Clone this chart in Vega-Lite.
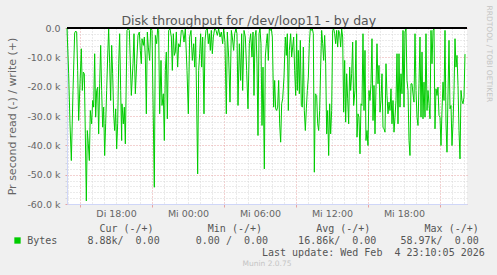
{
"$schema": "https://vega.github.io/schema/vega-lite/v6.json",
"width": 400, "height": 176,
"autosize": {"type": "none"},
"padding": {"left": 67, "top": 28, "right": 30, "bottom": 71},
"background": "#f0f0f0",
"config": {"view": {"stroke": null, "fill": "#ffffff"}, "font": "DejaVu Sans"},
"title": {"text": "Munin 2.0.75", "orient": "bottom", "anchor": "middle", "fontSize": 7.5, "font": "DejaVu Sans", "fontWeight": "normal", "color": "#c4c4c4", "offset": 3},
"data": {"values": [
{"h":13.917,"v":0},{"h":14.056,"v":-15600},{"h":14.167,"v":-32670},{"h":14.278,"v":-45190},{"h":14.417,"v":-21290},{"h":14.556,"v":-1720},{"h":14.639,"v":-1040},{"h":14.722,"v":-1380},{"h":14.806,"v":-14460},{"h":14.889,"v":-31530},{"h":15.0,"v":-19020},{"h":15.111,"v":-7070},{"h":15.194,"v":-21290},{"h":15.278,"v":-15030},{"h":15.361,"v":-15600},{"h":15.444,"v":-36090},{"h":15.528,"v":-58970},{"h":15.611,"v":-34950},{"h":15.694,"v":-39500},{"h":15.778,"v":-45190},{"h":15.861,"v":-28120},{"h":15.972,"v":-32670},{"h":16.056,"v":-24710},{"h":16.139,"v":-26980},{"h":16.222,"v":-8770},{"h":16.306,"v":-30400},{"h":16.389,"v":-21290},{"h":16.472,"v":-20160},{"h":16.556,"v":-36090},{"h":16.639,"v":-19020},{"h":16.722,"v":-5930},{"h":16.806,"v":-21290},{"h":16.889,"v":-33810},{"h":16.972,"v":-26980},{"h":17.056,"v":-43480},{"h":17.139,"v":-32670},{"h":17.222,"v":-21290},{"h":17.306,"v":-9910},{"h":17.389,"v":-240},{"h":17.472,"v":-12190},{"h":17.556,"v":-24710},{"h":17.639,"v":-5930},{"h":17.722,"v":-15600},{"h":17.806,"v":-29260},{"h":17.889,"v":-34950},{"h":17.972,"v":-27550},{"h":18.056,"v":-41210},{"h":18.139,"v":-32670},{"h":18.222,"v":-12190},{"h":18.306,"v":-1950},{"h":18.389,"v":-21290},{"h":18.472,"v":-38360},
{"h":18.5,"v":-25840},{"h":18.611,"v":-32670},{"h":18.694,"v":-26980},{"h":18.778,"v":-39500},{"h":18.917,"v":-810},{"h":19.028,"v":-240},{"h":19.111,"v":-810},{"h":19.278,"v":-23000},{"h":19.417,"v":-12190},{"h":19.5,"v":-1950},{"h":19.611,"v":-22430},{"h":19.722,"v":-12190},{"h":19.833,"v":-2520},{"h":19.944,"v":-1380},{"h":20.028,"v":-7640},{"h":20.111,"v":-12190},{"h":20.167,"v":-3650},{"h":20.278,"v":-5930},{"h":20.361,"v":-3080},{"h":20.444,"v":-9910},{"h":20.528,"v":-29260},{"h":20.611,"v":-1380},{"h":20.694,"v":-6500},{"h":20.806,"v":-11050},{"h":20.889,"v":-240},{"h":21.0,"v":-810},{"h":21.194,"v":-54290},{"h":21.278,"v":-2520},{"h":21.389,"v":-5360},{"h":21.472,"v":-240},{"h":21.556,"v":-810},{"h":21.639,"v":-29260},{"h":21.75,"v":-11050},{"h":21.833,"v":-26410},{"h":21.944,"v":-22430},{"h":22.028,"v":-38360},{"h":22.111,"v":-14460},{"h":22.194,"v":-8210},{"h":22.278,"v":-30960},{"h":22.389,"v":-810},{"h":22.5,"v":-240},{"h":22.611,"v":-3080},{"h":22.694,"v":-14460},{"h":22.778,"v":-1950},{"h":22.861,"v":-9340},{"h":22.944,"v":-8210},{"h":23.028,"v":-1380},{"h":23.139,"v":-13330},{"h":23.222,"v":-5360},
{"h":23.333,"v":-6500},{"h":23.444,"v":-810},{"h":23.556,"v":-810},{"h":23.667,"v":-4790},{"h":23.778,"v":-240},{"h":23.917,"v":-14460},{"h":24.028,"v":-29260},{"h":24.139,"v":-3080},{"h":24.25,"v":-810},{"h":24.361,"v":-11050},{"h":24.472,"v":-5360},{"h":24.556,"v":-13330},{"h":24.639,"v":-3080},{"h":24.722,"v":-25840},{"h":24.806,"v":-49740},{"h":24.889,"v":-14460},{"h":24.972,"v":-8770},{"h":25.056,"v":-1950},{"h":25.139,"v":-13330},{"h":25.222,"v":-3080},{"h":25.333,"v":-29260},{"h":25.417,"v":-4220},{"h":25.5,"v":-810},{"h":25.611,"v":-240},{"h":25.694,"v":-5360},{"h":25.778,"v":-1950},{"h":25.861,"v":-7640},{"h":25.944,"v":-810},{"h":26.028,"v":-8770},{"h":26.111,"v":-3080},{"h":26.222,"v":-240},{"h":26.333,"v":-810},{"h":26.444,"v":-2520},{"h":26.556,"v":-240},{"h":26.667,"v":-3080},{"h":26.778,"v":-1380},{"h":26.889,"v":-5360},{"h":26.972,"v":-240},{"h":27.083,"v":-4790},{"h":27.194,"v":-29260},{"h":27.278,"v":-1380},{"h":27.389,"v":-9910},{"h":27.5,"v":-25270},{"h":27.611,"v":-810},{"h":27.694,"v":-3080},{"h":27.806,"v":-7640},{"h":27.889,"v":-1950},{"h":28.0,"v":-240},{"h":28.083,"v":-1950},
{"h":28.167,"v":-26410},{"h":28.278,"v":-5360},{"h":28.389,"v":-17880},{"h":28.472,"v":-1950},{"h":28.556,"v":-21290},{"h":28.667,"v":-810},{"h":28.778,"v":-3080},{"h":28.889,"v":-14460},{"h":29.0,"v":-27550},{"h":29.111,"v":-5360},{"h":29.222,"v":-1950},{"h":29.333,"v":-9910},{"h":29.417,"v":-1380},{"h":29.5,"v":-23000},{"h":29.583,"v":-3080},{"h":29.667,"v":-810},{"h":29.75,"v":-12190},{"h":29.833,"v":-36660},{"h":29.917,"v":-1950},{"h":30.0,"v":-240},{"h":30.083,"v":-5360},{"h":30.167,"v":-33240},{"h":30.25,"v":-13330},{"h":30.361,"v":-48040},{"h":30.444,"v":-9910},{"h":30.528,"v":-5360},{"h":30.611,"v":-1950},{"h":30.694,"v":-11050},{"h":30.778,"v":-240},{"h":30.861,"v":-810},{"h":30.944,"v":-240},{"h":31.028,"v":-3080},{"h":31.139,"v":-26980},{"h":31.222,"v":-17880},{"h":31.306,"v":-27550},{"h":31.389,"v":-28120},{"h":31.472,"v":-26980},{"h":31.556,"v":-17880},{"h":31.639,"v":-32670},{"h":31.722,"v":-38930},{"h":31.806,"v":-25840},{"h":31.889,"v":-24140},{"h":32.0,"v":-16740},{"h":32.111,"v":-3080},{"h":32.194,"v":-9340},{"h":32.278,"v":-1950},{"h":32.361,"v":-28120},{"h":32.444,"v":-7640},{"h":32.556,"v":-1950},{"h":32.639,"v":-9910},{"h":32.722,"v":-6500},{"h":32.806,"v":-3080},{"h":32.889,"v":-14460},{"h":32.972,"v":-23000},
{"h":33.056,"v":-1950},{"h":33.111,"v":-21290},{"h":33.194,"v":-7640},{"h":33.278,"v":-22430},{"h":33.361,"v":-4220},{"h":33.444,"v":-26410},{"h":33.528,"v":-26980},{"h":33.611,"v":-6500},{"h":33.694,"v":-28120},{"h":33.778,"v":-34950},{"h":33.861,"v":-27550},{"h":33.944,"v":-21290},{"h":34.028,"v":-16740},{"h":34.111,"v":-5360},{"h":34.194,"v":-240},{"h":34.278,"v":-810},{"h":34.361,"v":-240},{"h":34.444,"v":-1950},{"h":34.528,"v":-49170},{"h":34.611,"v":-22430},{"h":34.722,"v":-23000},{"h":34.806,"v":-32670},{"h":34.889,"v":-34950},{"h":34.972,"v":-28120},{"h":35.056,"v":-13330},{"h":35.139,"v":-810},{"h":35.222,"v":-5360},{"h":35.306,"v":-11050},{"h":35.389,"v":-2520},{"h":35.472,"v":-12190},{"h":35.556,"v":-36090},{"h":35.639,"v":-28120},{"h":35.722,"v":-43480},{"h":35.806,"v":-25840},{"h":35.889,"v":-36090},{"h":35.972,"v":-28120},{"h":36.056,"v":-810},{"h":36.139,"v":-240},{"h":36.222,"v":-1950},{"h":36.306,"v":-5360},{"h":36.389,"v":-810},{"h":36.472,"v":-6500},{"h":36.556,"v":-810},{"h":36.639,"v":-1950},{"h":36.722,"v":-6500},{"h":36.806,"v":-240},{"h":36.889,"v":-3080},{"h":36.972,"v":-28690},{"h":37.056,"v":-11050},{"h":37.139,"v":-32100},{"h":37.222,"v":-15600},{"h":37.306,"v":-24140},{"h":37.389,"v":-32670},{"h":37.472,"v":-13330},{"h":37.556,"v":-21290},{"h":37.639,"v":-15600},{"h":37.722,"v":-4790},{"h":37.806,"v":-26410},
{"h":37.917,"v":-21290},{"h":38.0,"v":-4220},{"h":38.083,"v":-37220},{"h":38.167,"v":-29260},{"h":38.25,"v":-30400},{"h":38.333,"v":-42910},{"h":38.417,"v":-25840},{"h":38.5,"v":-26410},{"h":38.583,"v":-1950},{"h":38.667,"v":-28120},{"h":38.75,"v":-7640},{"h":38.833,"v":-38360},{"h":38.917,"v":-34950},{"h":39.0,"v":-40070},{"h":39.083,"v":-21290},{"h":39.167,"v":-24710},{"h":39.25,"v":-19020},{"h":39.333,"v":-3650},{"h":39.417,"v":-31530},{"h":39.5,"v":-19590},{"h":39.583,"v":-36090},{"h":39.667,"v":-20160},{"h":39.75,"v":-5360},{"h":39.833,"v":-19020},{"h":39.917,"v":-12760},{"h":40.0,"v":-28690},{"h":40.083,"v":-24710},{"h":40.167,"v":-15600},{"h":40.25,"v":-33810},{"h":40.333,"v":-34380},{"h":40.417,"v":-35520},{"h":40.5,"v":-12190},{"h":40.583,"v":-23000},{"h":40.667,"v":-29260},{"h":40.75,"v":-25270},{"h":40.833,"v":-28120},{"h":40.917,"v":-20720},{"h":41.0,"v":-32670},{"h":41.083,"v":-24710},{"h":41.167,"v":-35520},{"h":41.25,"v":-30400},{"h":41.333,"v":-24710},{"h":41.417,"v":-8770},{"h":41.5,"v":-32670},{"h":41.583,"v":-8770},{"h":41.667,"v":-26980},{"h":41.75,"v":-15600},{"h":41.833,"v":-22430},{"h":41.917,"v":-810},{"h":42.0,"v":-26980},{"h":42.083,"v":-1380},{"h":42.167,"v":-240},{"h":42.25,"v":-17880},{"h":42.333,"v":-21290},{"h":42.417,"v":-38360},{"h":42.5,"v":-43480},{"h":42.583,"v":-19020},
{"h":42.667,"v":-19020},{"h":42.75,"v":-22430},{"h":42.833,"v":-25270},{"h":42.917,"v":-1950},{"h":43.0,"v":-21290},{"h":43.083,"v":-30400},{"h":43.167,"v":-33240},{"h":43.25,"v":-19020},{"h":43.333,"v":-3080},{"h":43.417,"v":-30400},{"h":43.5,"v":-8210},{"h":43.583,"v":-30960},{"h":43.667,"v":-18450},{"h":43.75,"v":-30400},{"h":43.833,"v":-1950},{"h":43.917,"v":-28120},{"h":44.0,"v":-21290},{"h":44.083,"v":-25840},{"h":44.167,"v":-30960},{"h":44.25,"v":-810},{"h":44.333,"v":-12190},{"h":44.417,"v":-810},{"h":44.5,"v":-240},{"h":44.583,"v":-34380},{"h":44.667,"v":-20720},{"h":44.75,"v":-23000},{"h":44.833,"v":-20160},{"h":44.917,"v":-29830},{"h":45.0,"v":-30400},{"h":45.083,"v":-40070},{"h":45.167,"v":-28120},{"h":45.25,"v":-18450},{"h":45.333,"v":-24710},{"h":45.417,"v":-810},{"h":45.5,"v":-32670},{"h":45.583,"v":-42350},{"h":45.667,"v":-22430},{"h":45.75,"v":-4220},{"h":45.833,"v":-27550},{"h":45.917,"v":-26410},{"h":46.0,"v":-40070},{"h":46.083,"v":-32670},{"h":46.167,"v":-21290},{"h":46.25,"v":-3650},{"h":46.333,"v":-13330},{"h":46.417,"v":-9340},{"h":46.5,"v":-19590},{"h":46.583,"v":-34950},{"h":46.667,"v":-44620},{"h":46.75,"v":-21290},{"h":46.833,"v":-24710},{"h":46.917,"v":-25840},{"h":47.0,"v":-23570},{"h":47.083,"v":-8880}
]},
"layer": [
{"mark": {"type": "line", "strokeWidth": 1},
 "encoding": {
  "x": {"field": "h", "type": "quantitative", "scale": {"domain": [13.917, 47.25], "nice": false, "zero": false},
   "axis": {"values": [14,15,16,17,18,19,20,21,22,23,24,25,26,27,28,29,30,31,32,33,34,35,36,37,38,39,40,41,42,43,44,45,46,47],
    "labelExpr": "datum.value % 6 == 0 ? ((datum.value < 24 ? 'Di ' : 'Mi ') + (datum.value % 24 < 10 ? '0' : '') + (datum.value % 24) + ':00') : ''",
    "labelOverlap": false, "labelFlush": false, "labelBound": false,
    "labelFont": "DejaVu Sans", "labelFontSize": 9.5, "labelColor": "#666666", "labelPadding": 1, "labelBaseline": "top",
    "tickSize": 3, "tickColor": "#e6a3a3", "tickOpacity": {"condition": {"test": "(datum.value - 3) % 6 == 0", "value": 1}, "value": 0},
    "grid": true, "gridColor": {"condition": {"test": "(datum.value - 3) % 6 == 0", "value": "#e6a3a3"}, "value": "#d6d6d6"}, "gridDash": [1, 2], "gridWidth": 1,
    "domainColor": "#cfd6f8", "domainWidth": 1,
    "title": ["\u200b\u00a0\u00a0\u00a0\u00a0\u00a0\u00a0\u00a0\u00a0\u00a0\u00a0\u00a0\u00a0Cur (-/+)\u00a0\u00a0\u00a0\u00a0\u00a0\u00a0\u00a0\u00a0\u00a0Min (-/+)\u00a0\u00a0\u00a0\u00a0\u00a0\u00a0\u00a0\u00a0\u00a0Avg (-/+)\u00a0\u00a0\u00a0\u00a0\u00a0\u00a0\u00a0\u00a0\u00a0Max (-/+)",
      "Bytes\u00a0\u00a0\u00a0\u00a0\u00a08.88k/\u00a0\u00a00.00\u00a0\u00a0\u00a0\u00a0\u00a0\u00a00.00 /\u00a0\u00a00.00\u00a0\u00a0\u00a0\u00a0\u00a016.86k/\u00a0\u00a00.00\u00a0\u00a0\u00a0\u00a058.97k/\u00a0\u00a00.00",
      "\u200b\u00a0\u00a0\u00a0\u00a0\u00a0\u00a0\u00a0\u00a0\u00a0\u00a0\u00a0\u00a0\u00a0\u00a0\u00a0\u00a0\u00a0\u00a0\u00a0\u00a0\u00a0\u00a0\u00a0\u00a0\u00a0\u00a0\u00a0\u00a0\u00a0\u00a0\u00a0\u00a0\u00a0\u00a0\u00a0\u00a0\u00a0\u00a0\u00a0Last update: Wed Feb\u00a0\u00a04 23:10:05 2026"],
    "titleFont": "DejaVu Sans Mono", "titleFontSize": 10, "titleFontWeight": "normal", "titleColor": "#555555",
    "titleX": -40.3, "titleY": 27, "titleAlign": "left", "titleAnchor": "start", "titleBaseline": "alphabetic", "titleLineHeight": 12}},
  "y": {"field": "v", "type": "quantitative", "scale": {"domain": [-60000, 0], "nice": false},
   "axis": {"values": [-60000,-58000,-56000,-54000,-52000,-50000,-48000,-46000,-44000,-42000,-40000,-38000,-36000,-34000,-32000,-30000,-28000,-26000,-24000,-22000,-20000,-18000,-16000,-14000,-12000,-10000,-8000,-6000,-4000,-2000,0],
    "labelExpr": "datum.value % 10000 == 0 ? (datum.value == 0 ? '0.0' : '-' + format(-datum.value/1000, '.1f') + ' k') : ''",
    "labelOverlap": false, "labelFont": "DejaVu Sans", "labelFontSize": 9.5, "labelColor": "#666666", "labelPadding": 5,
    "tickSize": 2, "tickColor": {"condition": {"test": "datum.value % 10000 == 0", "value": "#e6a3a3"}, "value": "#d6d6d6"},
    "grid": true, "gridColor": {"condition": {"test": "datum.value % 10000 == 0", "value": "#e6a3a3"}, "value": "#d6d6d6"}, "gridDash": [1, 2], "gridWidth": 1,
    "domainColor": "#cfd6f8", "domainWidth": 1,
    "title": "Pr second read (-) / write (+)", "titleFont": "DejaVu Sans", "titleFontSize": 11, "titleFontWeight": "normal", "titleColor": "#666666",
    "titleX": -55, "titleY": 88, "titleAngle": -90, "titleAlign": "center", "titleBaseline": "middle"}},
  "color": {"datum": "Bytes", "scale": {"range": ["#00cc00"]},
   "legend": {"orient": "none", "legendX": -53, "legendY": 209, "title": null, "padding": 0, "labelExpr": "''", "labelFontSize": 1, "labelOffset": 0,
    "symbolType": "square", "symbolSize": 40, "symbolFillColor": "#00cc00", "symbolStrokeColor": "#00cc00", "symbolStrokeWidth": 0,
    "encode": {"symbols": {"update": {"fill": {"value": "#00cc00"}, "stroke": {"value": "#00cc00"}, "strokeWidth": {"value": 0}, "shape": {"value": "square"}, "size": {"value": 40}}}}}}
 }},
{"mark": {"type": "rule", "color": "#000000", "strokeWidth": 1},
 "encoding": {
  "x": {"datum": 13.917, "type": "quantitative",
   "axis": {"orient": "top", "labels": false, "ticks": false, "domain": false, "grid": false,
    "title": "Disk throughput for /dev/loop11 - by day", "titleFont": "DejaVu Sans", "titleFontSize": 12.5, "titleFontWeight": "normal", "titleColor": "#555555",
    "titleX": 181.3, "titleY": -4, "titleAlign": "center", "titleBaseline": "alphabetic"}},
  "x2": {"datum": 47.25},
  "y": {"datum": 0, "type": "quantitative",
   "axis": {"orient": "right", "labels": false, "ticks": false, "domain": false, "grid": false,
    "title": "RRDTOOL / TOBI OETIKER", "titleFont": "DejaVu Sans", "titleFontSize": 7.5, "titleFontWeight": "normal", "titleColor": "#c4c4c4",
    "titleX": 21.5, "titleY": -23, "titleAngle": 90, "titleAlign": "left", "titleBaseline": "middle"}}
 }}
],
"resolve": {"axis": {"x": "independent", "y": "independent"}}
}
